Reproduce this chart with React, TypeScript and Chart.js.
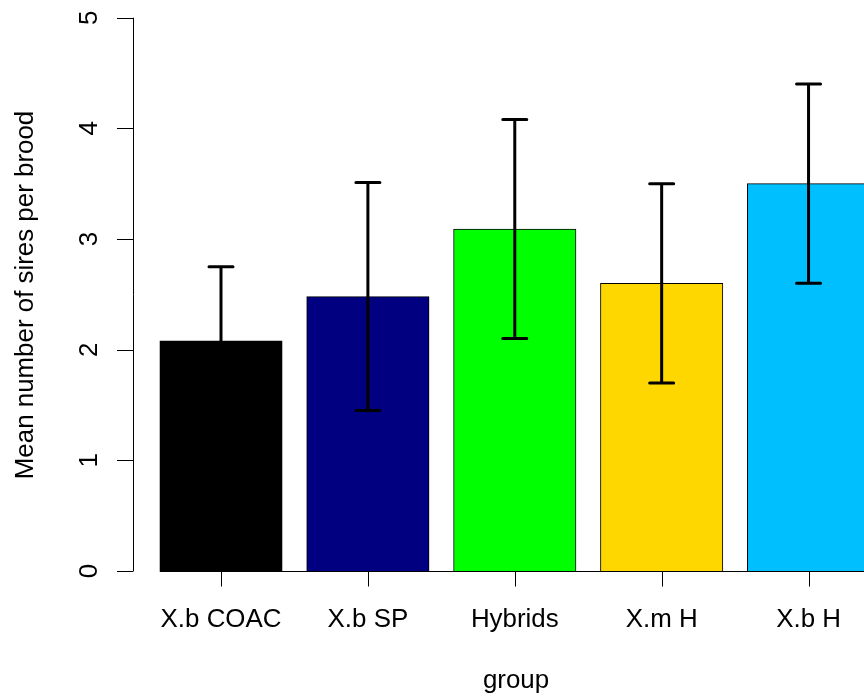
import React, { useEffect, useRef } from "react";
import { Chart, registerables } from "chart.js";

Chart.register(...registerables);

const categories = ["X.b COAC", "X.b SP", "Hybrids", "X.m H", "X.b H"];
const positions = [0.7, 1.9, 3.1, 4.3, 5.5];
const means = [2.08, 2.48, 3.09, 2.6, 3.5];
const upper = [2.75, 3.51, 4.08, 3.5, 4.4];
const lower = [1.41, 1.45, 2.1, 1.7, 2.6];
const colors = ["#000000", "#000080", "#00FF00", "#FFD700", "#00BFFF"];
const yTicks = [0, 1, 2, 3, 4, 5];
const xTitle = "group";
const yTitle = "Mean number of sires per brood";

const FONT = '25.9px "Liberation Sans", Arial, sans-serif';

const rPlotPlugin = {
  id: "rPlot",
  afterDatasetsDraw(chart: any) {
    const ctx = chart.ctx as CanvasRenderingContext2D;
    const xs = chart.scales.x;
    const ys = chart.scales.y;
    const area = chart.chartArea;
    ctx.save();
    // error bars
    ctx.strokeStyle = "#000";
    ctx.lineWidth = 3;
    ctx.lineCap = "round";
    for (let i = 0; i < means.length; i++) {
      const cx = xs.getPixelForValue(positions[i]);
      const yu = ys.getPixelForValue(upper[i]);
      const yl = ys.getPixelForValue(lower[i]);
      ctx.beginPath();
      ctx.moveTo(cx, yl);
      ctx.lineTo(cx, yu);
      ctx.moveTo(cx - 12, yu);
      ctx.lineTo(cx + 12, yu);
      ctx.moveTo(cx - 12, yl);
      ctx.lineTo(cx + 12, yl);
      ctx.stroke();
    }
    ctx.lineCap = "butt";
    ctx.lineWidth = 1;
    // y axis
    const ax = Math.round(area.left) + 0.5;
    const y0 = ys.getPixelForValue(yTicks[0]);
    const y1 = ys.getPixelForValue(yTicks[yTicks.length - 1]);
    ctx.beginPath();
    ctx.moveTo(ax, y0);
    ctx.lineTo(ax, y1);
    for (const t of yTicks) {
      const y = Math.round(ys.getPixelForValue(t)) + 0.5;
      ctx.moveTo(ax, y);
      ctx.lineTo(ax - 16.5, y);
    }
    // x axis line
    const by = Math.round(ys.getPixelForValue(0)) + 0.5;
    ctx.moveTo(xs.getPixelForValue(positions[0] - 0.5), by);
    ctx.lineTo(area.right, by);
    for (const p of positions) {
      const x = Math.round(xs.getPixelForValue(p)) + 0.5;
      ctx.moveTo(x, by);
      ctx.lineTo(x, by + 15);
    }
    ctx.stroke();
    // labels
    ctx.fillStyle = "#000";
    ctx.font = FONT;
    ctx.textAlign = "center";
    ctx.textBaseline = "alphabetic";
    for (let i = 0; i < categories.length; i++) {
      ctx.fillText(categories[i], xs.getPixelForValue(positions[i]), 627);
    }
    ctx.fillText(xTitle, 516, 688);
    for (const t of yTicks) {
      ctx.save();
      ctx.translate(97, ys.getPixelForValue(t));
      ctx.rotate(-Math.PI / 2);
      ctx.fillText(String(t), 0, 0);
      ctx.restore();
    }
    ctx.save();
    ctx.translate(33, 295);
    ctx.rotate(-Math.PI / 2);
    ctx.fillText(yTitle, 0, 0);
    ctx.restore();
    ctx.restore();
  },
};

export default function App() {
  const ref = useRef<HTMLCanvasElement | null>(null);
  useEffect(() => {
    if (!ref.current) return;
    const chart = new Chart(ref.current, {
      type: "bar",
      data: {
        datasets: [
          {
            data: positions.map((p, i) => ({ x: p, y: means[i] })),
            backgroundColor: colors,
            borderColor: "#000",
            borderWidth: 1,
            barThickness: 122.4,
          } as any,
        ],
      },
      options: {
        animation: false,
        responsive: false,
        maintainAspectRatio: false,
        events: [],
        layout: { padding: { left: 132.5, right: 0, top: 17.7, bottom: 125 } },
        plugins: {
          legend: { display: false },
          tooltip: { enabled: false },
          title: { display: false },
        },
        scales: {
          x: { type: "linear", min: -0.023, max: 5.953, display: false, offset: false },
          y: { type: "linear", min: 0, max: 5, display: false },
        },
      },
      plugins: [rPlotPlugin],
    });
    return () => chart.destroy();
  }, []);
  return (
    <div style={{ position: "fixed", left: 0, top: 0, width: 864, height: 696, background: "#fff" }}>
      <canvas ref={ref} width={864} height={696} style={{ width: 864, height: 696 }} />
    </div>
  );
}
